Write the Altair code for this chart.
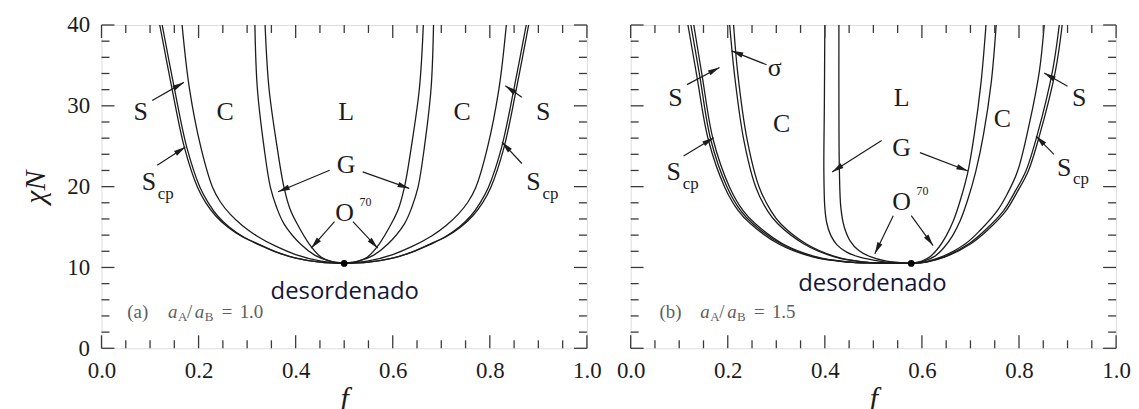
import math
import altair as alt
import pandas as pd

W, H = 488, 325
SERIF = "Liberation Serif"
SANS = "Open Sans"
INK = "#1c1c1c"
FRAME = "#3a3a3a"
GREY = "#5e5e5e"

# ---------------- axis tick values ----------------
X_LABELS = [0.0, 0.2, 0.4, 0.6, 0.8, 1.0]
X_MINOR = [0.05, 0.1, 0.15, 0.25, 0.3, 0.35, 0.45, 0.5, 0.55, 0.65, 0.7, 0.75, 0.85, 0.9, 0.95]
Y_LABELS = [0, 10, 20, 30, 40]
Y_MINOR = [2, 4, 6, 8, 12, 14, 16, 18, 22, 24, 26, 28, 32, 34, 36, 38]

# ---------------- panel (a): aA/aB = 1.0 ----------------
A_ODT_L_F = [0.120, 0.145, 0.171, 0.198, 0.215, 0.235, 0.260, 0.290, 0.325, 0.360, 0.400, 0.450, 0.500]
A_ODT_L_N = [40, 32.2, 24.8, 19.9, 18.0, 16.4, 15.0, 13.8, 12.8, 11.9, 11.15, 10.65, 10.495]
A_SCP_L_F = [0.125, 0.150, 0.176, 0.203, 0.220, 0.239, 0.263, 0.292, 0.327, 0.361, 0.401, 0.450, 0.500]
A_SC_L_F = [0.166, 0.181, 0.205, 0.229, 0.245, 0.265, 0.290, 0.320, 0.360, 0.400, 0.450, 0.500]
A_SC_L_N = [40, 32.2, 24.8, 19.9, 18.1, 16.6, 15.2, 13.9, 12.6, 11.6, 10.8, 10.495]
A_CG_L_F = [0.316, 0.321, 0.335, 0.348, 0.361, 0.376, 0.410, 0.440, 0.470, 0.500]
A_CG_L_N = [40, 32.2, 24.8, 19.9, 17.4, 15.4, 12.9, 11.5, 10.8, 10.495]
A_GL_L_F = [0.337, 0.345, 0.362, 0.376, 0.388, 0.403, 0.428, 0.452, 0.475, 0.500]
A_GL_L_N = [40, 32.2, 24.8, 19.9, 17.3, 15.4, 12.9, 11.3, 10.7, 10.495]
A_ODT_R_F = [0.880, 0.855, 0.829, 0.802, 0.785, 0.765, 0.740, 0.710, 0.675, 0.640, 0.600, 0.550, 0.500]
A_SCP_R_F = [0.875, 0.850, 0.824, 0.797, 0.780, 0.761, 0.737, 0.708, 0.673, 0.639, 0.599, 0.550, 0.500]
A_SC_R_F = [0.834, 0.819, 0.795, 0.771, 0.755, 0.735, 0.710, 0.680, 0.640, 0.600, 0.550, 0.500]
A_CG_R_F = [0.684, 0.679, 0.665, 0.652, 0.639, 0.624, 0.590, 0.560, 0.530, 0.500]
A_GL_R_F = [0.663, 0.655, 0.638, 0.624, 0.612, 0.597, 0.572, 0.548, 0.525, 0.500]
A_CRIT = [0.500, 10.495]

A_ARROW_F0 = [0.1045, 0.1148, 0.470, 0.480, 0.538, 0.518, 0.866, 0.866]
A_ARROW_N0 = [30.65, 22.65, 22.03, 15.67, 21.82, 15.67, 31.05, 22.86]
A_ARROW_F1 = [0.1695, 0.1727, 0.364, 0.432, 0.634, 0.569, 0.832, 0.825]
A_ARROW_N1 = [32.90, 24.90, 19.36, 12.39, 19.78, 12.39, 32.49, 25.51]

A_LABELS = ["S", "C", "L", "C", "S", "G"]
A_LABEL_F = [0.0805, 0.2547, 0.504, 0.743, 0.910, 0.504]
A_LABEL_N = [29.2, 29.2, 29.2, 29.2, 29.2, 22.65]
A_SCP_F = [0.0977, 0.890]
A_SCP_N = [20.6, 20.6]
A_O70 = [0.5006, 16.7]
A_DESORD = [0.501, 7.0]
A_NOTE = [0.053, 4.43]

# ---------------- panel (b): aA/aB = 1.5 ----------------
B_BAND_N = [40, 33.8, 25.8, 19.9, 17.0, 15.4, 12.9, 11.3, 10.7, 10.55, 10.495]
B_ODT_L_F = [0.118, 0.136, 0.160, 0.194, 0.222, 0.247, 0.305, 0.375, 0.440, 0.510, 0.578]
B_SCP1_L_F = [0.124, 0.142, 0.165, 0.199, 0.227, 0.252, 0.310, 0.379, 0.443, 0.512, 0.578]
B_SCP2_L_F = [0.130, 0.147, 0.170, 0.204, 0.232, 0.257, 0.314, 0.383, 0.446, 0.514, 0.578]
B_SSIG_L_F = [0.204, 0.214, 0.233, 0.258, 0.282, 0.303, 0.357, 0.420, 0.475, 0.530, 0.578]
B_SIGC_L_F = [0.212, 0.221, 0.240, 0.265, 0.289, 0.309, 0.362, 0.424, 0.478, 0.532, 0.578]
B_CG_L_F = [0.400, 0.399, 0.398, 0.400, 0.404, 0.412, 0.425, 0.445, 0.470, 0.500, 0.535, 0.578]
B_CG_L_N = [40, 30, 21.9, 17.4, 15.5, 14.0, 12.8, 11.9, 11.3, 10.9, 10.6, 10.495]
B_GL_L_F = [0.429, 0.429, 0.430, 0.433, 0.440, 0.452, 0.470, 0.495, 0.525, 0.578]
B_GL_L_N = [40, 30, 21.9, 17.4, 15.0, 13.3, 12.1, 11.3, 10.8, 10.495]
B_R1_N = [40, 33, 26.5, 21.9, 18.5, 15.8, 13.9, 12.5, 11.4, 10.8, 10.495]
B_LG_R_F = [0.732, 0.722, 0.708, 0.695, 0.680, 0.665, 0.650, 0.635, 0.618, 0.600, 0.578]
B_GC_R_F = [0.753, 0.743, 0.727, 0.711, 0.695, 0.679, 0.663, 0.646, 0.627, 0.605, 0.578]
B_CS_R_F = [0.852, 0.842, 0.821, 0.797, 0.775, 0.755, 0.720, 0.689, 0.640, 0.607, 0.578]
B_CS_R_N = [40, 34.3, 27.7, 21.9, 19.0, 17.0, 14.6, 12.9, 11.3, 10.7, 10.495]
B_R3_N = [40, 34.3, 26.5, 21.9, 19.2, 17.0, 14.6, 12.9, 11.3, 10.7, 10.495]
B_SCP_R_F = [0.883, 0.869, 0.838, 0.814, 0.790, 0.768, 0.730, 0.696, 0.645, 0.610, 0.578]
B_ODT_R_F = [0.889, 0.875, 0.843, 0.819, 0.795, 0.773, 0.735, 0.700, 0.648, 0.612, 0.578]
B_CRIT = [0.578, 10.495]

B_ARROW_F0 = [0.116, 0.109, 0.280, 0.517, 0.596, 0.541, 0.578, 0.900, 0.872]
B_ARROW_N0 = [32.62, 23.79, 35.08, 25.72, 24.21, 16.41, 16.41, 32.41, 24.00]
B_ARROW_F1 = [0.183, 0.171, 0.208, 0.415, 0.695, 0.503, 0.623, 0.852, 0.835]
B_ARROW_N1 = [34.74, 26.06, 36.80, 21.82, 21.94, 11.69, 12.71, 34.06, 26.25]

B_LABELS = ["S", "C", "σ", "L", "G", "C", "S"]
B_LABEL_F = [0.0922, 0.311, 0.297, 0.558, 0.558, 0.766, 0.924]
B_LABEL_N = [30.98, 27.69, 34.67, 30.98, 24.82, 28.31, 30.98]
B_SCP_F = [0.0887, 0.893]
B_SCP_N = [21.75, 22.36]
B_O70 = [0.558, 18.06]
B_DESORD = [0.498, 8.0]
B_NOTE = [0.0594, 4.43]

XS = alt.Scale(domain=[0, 1], nice=False, zero=False)
YS = alt.Scale(domain=[0, 40], nice=False, zero=False)

ARROW_PATH = "M0,0L0.4,1.7L-0.4,1.7Z"


def x_axis():
    return alt.Axis(values=X_LABELS, format=".1f", title="f", ticks=False, tickSize=0,
                    domain=False, grid=False, labelFlush=False, labelOverlap=False,
                    labelPadding=11, labelFont=SERIF, labelFontSize=23, labelColor=INK,
                    titleFont=SERIF, titleFontSize=30, titleFontStyle="italic",
                    titleFontWeight="normal", titleColor=INK, titlePadding=2)


def y_axis():
    return alt.Axis(values=Y_LABELS, format="d", title="χN", ticks=False, tickSize=0,
                    domain=False, grid=False, labelPadding=12, labelFont=SERIF,
                    labelFontSize=23, labelColor=INK, titleFont=SERIF, titleFontSize=30,
                    titleFontStyle="italic", titleFontWeight="normal", titleColor=INK,
                    titlePadding=16)


def curves_df(curves):
    rows = []
    for name, fs, ns in curves:
        for i, (f, n) in enumerate(zip(fs, ns)):
            rows.append({"curve": name, "i": i, "f": f, "N": n})
    return pd.DataFrame(rows)


def panel(curves, af0, an0, af1, an1, labels, lf, ln, scpf, scpn, o70, crit,
          desord, note, tag, ratio, show_y):
    xa = x_axis()
    ya = y_axis() if show_y else None
    X = alt.X("f:Q", scale=XS, axis=xa)
    Y = alt.Y("N:Q", scale=YS, axis=ya)
    layers = []

    lines = alt.Chart(curves_df(curves)).mark_line(
        color=INK, strokeWidth=1.3, interpolate="catmull-rom", clip=True
    ).encode(x=X, y=Y, detail="curve:N", order="i:Q")
    layers.append(lines)

    # inward tick marks on all four sides
    for vals, L in [(X_LABELS, 13), (X_MINOR, 8)]:
        c = alt.Chart(pd.DataFrame({"f": vals})).mark_rule(color=FRAME, strokeWidth=1.3)
        layers.append(c.encode(x=X, y=alt.value(H), y2=alt.value(H - L)))
        layers.append(c.encode(x=X, y=alt.value(0), y2=alt.value(L)))
    for vals, L in [(Y_LABELS, 13), (Y_MINOR, 8)]:
        c = alt.Chart(pd.DataFrame({"N": vals})).mark_rule(color=FRAME, strokeWidth=1.3)
        layers.append(c.encode(y=Y, x=alt.value(0), x2=alt.value(L)))
        layers.append(c.encode(y=Y, x=alt.value(W), x2=alt.value(W - L)))

    # arrows
    adf = pd.DataFrame({"f": af0, "N": an0, "f2": af1, "N2": an1})
    adf["ang"] = [
        math.degrees(math.atan2((b - a) * W, (d - c) * H / 40.0)) % 360
        for a, b, c, d in zip(af0, af1, an0, an1)
    ]
    layers.append(alt.Chart(adf).mark_rule(color=INK, strokeWidth=1.2).encode(
        x=X, y=Y, x2="f2:Q", y2="N2:Q"))
    hdf = pd.DataFrame({"f": af1, "N": an1, "ang": adf["ang"]})
    layers.append(alt.Chart(hdf).mark_point(
        shape=ARROW_PATH, filled=True, color=INK, size=190, opacity=1, strokeWidth=0
    ).encode(x=X, y=Y, angle=alt.Angle("ang:Q", scale=None)))

    # critical point
    layers.append(alt.Chart(pd.DataFrame({"f": [crit[0]], "N": [crit[1]]})).mark_circle(
        color="black", size=45, opacity=1).encode(x=X, y=Y))

    # phase labels
    layers.append(alt.Chart(pd.DataFrame({"f": lf, "N": ln, "t": labels})).mark_text(
        font=SERIF, fontSize=26, color=INK, align="center", baseline="middle"
    ).encode(x=X, y=Y, text="t:N"))
    sdf = pd.DataFrame({"f": scpf, "N": scpn})
    layers.append(alt.Chart(sdf).mark_text(
        text="S", font=SERIF, fontSize=26, color=INK, align="center", baseline="middle"
    ).encode(x=X, y=Y))
    layers.append(alt.Chart(sdf).mark_text(
        text="cp", font=SERIF, fontSize=17, color=INK, align="center", baseline="middle",
        dx=17, dy=12).encode(x=X, y=Y))
    odf = pd.DataFrame({"f": [o70[0]], "N": [o70[1]]})
    layers.append(alt.Chart(odf).mark_text(
        text="O", font=SERIF, fontSize=26, color=INK, align="center", baseline="middle"
    ).encode(x=X, y=Y))
    layers.append(alt.Chart(odf).mark_text(
        text="70", font=SERIF, fontSize=12, color=INK, align="center", baseline="middle",
        dx=21, dy=-11).encode(x=X, y=Y))

    # "desordenado"
    layers.append(alt.Chart(pd.DataFrame({"f": [desord[0]], "N": [desord[1]]})).mark_text(
        text="desordenado", font=SANS, fontSize=24, color="#15153a", align="center",
        baseline="middle").encode(x=X, y=Y))

    # panel note "(a)  aA/aB = 1.0"
    ndf = pd.DataFrame({"f": [note[0]], "N": [note[1]]})
    pieces = [
        (tag, 0, 0, 19, "normal"),
        ("a", 41, 0, 19, "italic"),
        ("A", 51, 5, 13, "normal"),
        ("/", 60, 0, 19, "normal"),
        ("a", 68, 0, 19, "italic"),
        ("B", 78, 5, 13, "normal"),
        ("=", 95, 0, 19, "normal"),
        (ratio, 113, 0, 19, "normal"),
    ]
    for txt, dx, dy, fs, st in pieces:
        layers.append(alt.Chart(ndf).mark_text(
            text=txt, font=SERIF, fontSize=fs, fontStyle=st, color=GREY, align="left",
            baseline="middle", dx=dx, dy=dy).encode(x=X, y=Y))

    return alt.layer(*layers).properties(width=W, height=H)


curves_a = [
    ("odt_l", A_ODT_L_F, A_ODT_L_N), ("scp_l", A_SCP_L_F, A_ODT_L_N),
    ("sc_l", A_SC_L_F, A_SC_L_N), ("cg_l", A_CG_L_F, A_CG_L_N), ("gl_l", A_GL_L_F, A_GL_L_N),
    ("odt_r", A_ODT_R_F, A_ODT_L_N), ("scp_r", A_SCP_R_F, A_ODT_L_N),
    ("sc_r", A_SC_R_F, A_SC_L_N), ("cg_r", A_CG_R_F, A_CG_L_N), ("gl_r", A_GL_R_F, A_GL_L_N),
]
curves_b = [
    ("odt_l", B_ODT_L_F, B_BAND_N), ("scp1_l", B_SCP1_L_F, B_BAND_N),
    ("scp2_l", B_SCP2_L_F, B_BAND_N), ("ssig_l", B_SSIG_L_F, B_BAND_N),
    ("sigc_l", B_SIGC_L_F, B_BAND_N), ("cg_l", B_CG_L_F, B_CG_L_N),
    ("gl_l", B_GL_L_F, B_GL_L_N), ("lg_r", B_LG_R_F, B_R1_N), ("gc_r", B_GC_R_F, B_R1_N),
    ("cs_r", B_CS_R_F, B_CS_R_N), ("scp_r", B_SCP_R_F, B_R3_N), ("odt_r", B_ODT_R_F, B_R3_N),
]

pa = panel(curves_a, A_ARROW_F0, A_ARROW_N0, A_ARROW_F1, A_ARROW_N1,
           A_LABELS, A_LABEL_F, A_LABEL_N, A_SCP_F, A_SCP_N, A_O70, A_CRIT,
           A_DESORD, A_NOTE, "(a)", "1.0", True)
pb = panel(curves_b, B_ARROW_F0, B_ARROW_N0, B_ARROW_F1, B_ARROW_N1,
           B_LABELS, B_LABEL_F, B_LABEL_N, B_SCP_F, B_SCP_N, B_O70, B_CRIT,
           B_DESORD, B_NOTE, "(b)", "1.5", False)

chart = alt.hconcat(pa, pb, spacing=44, bounds="flush").properties(
    padding={"left": 12, "top": 4, "right": 0, "bottom": 0}
).configure_view(stroke=FRAME, strokeWidth=1.5).configure(background="white")

chart.save("out.html", embed_options={"renderer": "svg", "actions": False})
